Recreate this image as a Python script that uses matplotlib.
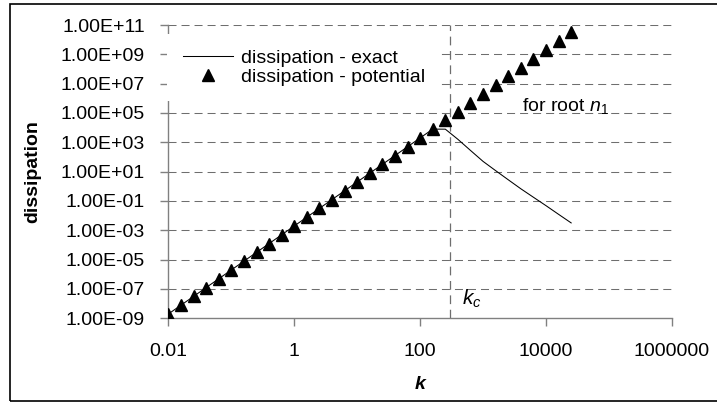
import matplotlib.pyplot as plt
from matplotlib.patches import Rectangle
from matplotlib.ticker import FuncFormatter, NullLocator

plt.rcParams['font.family'] = ['Liberation Sans', 'DejaVu Sans']
plt.rcParams['mathtext.fontset'] = 'custom'
plt.rcParams['mathtext.rm'] = 'Liberation Sans'
plt.rcParams['mathtext.it'] = 'Liberation Sans:italic'

# wavenumbers, 0.2 decade steps
k = [0.01, 0.01585, 0.02512, 0.03981, 0.0631, 0.1, 0.1585, 0.2512, 0.3981, 0.631,
     1, 1.585, 2.512, 3.981, 6.31, 10, 15.85, 25.12, 39.81, 63.1,
     100, 158.5, 251.2, 398.1, 631, 1000, 1585, 2512, 3981, 6310,
     10000, 15850, 25120]

diss_potential = [2.0e-9, 7.94e-9, 3.16e-8, 1.26e-7, 5.01e-7, 2.0e-6, 7.94e-6, 3.16e-5,
                  1.26e-4, 5.01e-4, 2.0e-3, 7.94e-3, 3.16e-2, 0.126, 0.501, 2.0,
                  7.94, 31.6, 126, 501, 2.0e3, 7.94e3, 3.16e4, 1.26e5, 5.01e5,
                  2.0e6, 7.94e6, 3.16e7, 1.26e8, 5.01e8, 2.0e9, 7.94e9, 3.16e10]

diss_exact = [2.0e-9, 7.94e-9, 3.16e-8, 1.26e-7, 5.01e-7, 2.0e-6, 7.94e-6, 3.16e-5,
              1.26e-4, 5.01e-4, 2.0e-3, 7.94e-3, 3.16e-2, 0.126, 0.501, 2.0,
              7.94, 31.6, 126, 501, 2.0e3, 7.94e3, 7.9e3, 1.6e3, 280,
              50, 11.7, 2.8, 0.68, 0.18, 0.048, 0.0123, 0.0032]

k_c = 300
xticks = [0.01, 1, 100, 10000, 1000000]
xticklabels = ['0.01', '1', '100', '10000', '1000000']
yticks = [1e-9, 1e-7, 1e-5, 1e-3, 1e-1, 1e1, 1e3, 1e5, 1e7, 1e9, 1e11]

grid_col = '#6e6e6e'
fs = 14

fig = plt.figure(figsize=(7.17, 4.04), dpi=100)
ax = fig.add_axes([0.235, 0.2121, 0.702, 0.726])

ax.plot(k, diss_exact, color='black', lw=0.75, zorder=3, label='dissipation - exact')
ax.plot(k, diss_potential, ls='none', marker='^', ms=8, color='black', zorder=4,
        label='dissipation - potential')

ax.set_xscale('log')
ax.set_yscale('log')
ax.set_xlim(0.01, 1e6)
ax.set_ylim(1e-9, 1e11)

ax.set_xticks(xticks)
ax.set_xticklabels(xticklabels)
ax.set_yticks(yticks)
ax.yaxis.set_major_formatter(FuncFormatter(lambda v, p: f'{v:.2E}'))
ax.xaxis.set_minor_locator(NullLocator())
ax.yaxis.set_minor_locator(NullLocator())

for y in yticks[1:]:
    ax.axhline(y, color=grid_col, lw=0.75, ls=(0, (7.7, 4.8)), zorder=1)
ax.axvline(k_c, color=grid_col, lw=0.9, ls=(0, (7, 4.5)), zorder=1)

for s in ['top', 'right']:
    ax.spines[s].set_visible(False)
for s in ['left', 'bottom']:
    ax.spines[s].set_color('#808080')
    ax.spines[s].set_linewidth(1.0)

ax.tick_params(axis='both', direction='out', length=6, width=1.0, color='#808080',
               labelsize=fs, labelcolor='black')
ax.tick_params(axis='x', pad=12)
ax.tick_params(axis='y', pad=11)

ax.set_xlabel('k', fontsize=fs, fontweight='bold', fontstyle='italic', labelpad=11)
ax.set_ylabel('dissipation', fontsize=fs, fontweight='bold', labelpad=14)

ax.text(465, 8e-9, r'$k_c$', fontsize=15, va='baseline', ha='left')
ax.text(4120, 1.3e5, r'for root $n_1$', fontsize=fs, va='baseline', ha='left')

leg = ax.legend(loc='upper left', bbox_to_anchor=(167 / 717, 1 - 34 / 404),
                bbox_transform=fig.transFigure, borderaxespad=0, fontsize=fs,
                frameon=True, facecolor='white', edgecolor='none', framealpha=1,
                fancybox=False, handlelength=2.6, handletextpad=0.4,
                labelspacing=0.05, borderpad=0.8, numpoints=1)
leg.set_zorder(6)

fig.patches.append(Rectangle((10 / 717, 1 - 401 / 404), 1.0, (401 - 3.5) / 404,
                             transform=fig.transFigure, fill=False,
                             edgecolor='black', lw=1.2))

fig.savefig('out.png', dpi=100)
